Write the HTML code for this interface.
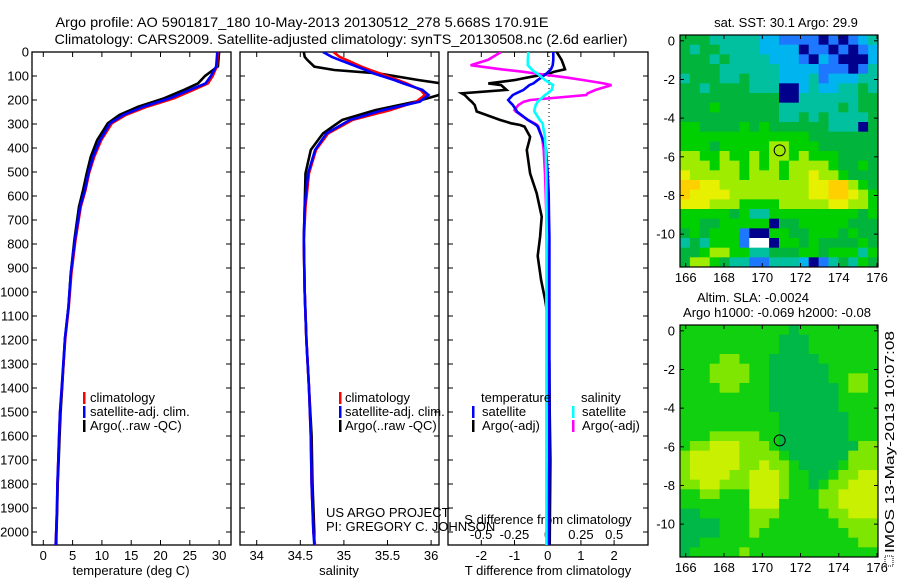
<!DOCTYPE html>
<html><head><meta charset="utf-8"><style>
html,body{margin:0;padding:0;background:#fff;}
svg{display:block;font-family:"Liberation Sans",sans-serif;}
</style></head><body>
<svg id="fig" width="900" height="580" viewBox="0 0 900 580" xmlns="http://www.w3.org/2000/svg">
<rect width="900" height="580" fill="#fff"/>
<text x="302" y="27" font-size="14" text-anchor="middle" textLength="493" lengthAdjust="spacingAndGlyphs">Argo profile: AO 5901817_180 10-May-2013 20130512_278 5.668S 170.91E</text>
<text x="341" y="44" font-size="14" text-anchor="middle" textLength="573" lengthAdjust="spacingAndGlyphs">Climatology: CARS2009. Satellite-adjusted climatology: synTS_20130508.nc (2.6d earlier)</text>
<g id="maps"></g>
<g id="panels"></g>
</svg>
<script>
// ---------- data ----------
const depthTicks=[0,100,200,300,400,500,600,700,800,900,1000,1100,1200,1300,1400,1500,1600,1700,1800,1900,2000];
const tTicks=[0,5,10,15,20,25,30];
const sTicks=[34,34.5,35,35.5,36];
const dTTicks=[-2,-1,0,1,2];
const dSTicks=[-0.5,-0.25,0,0.25,0.5];
const dSTickLabels=["-0.5","-0.25","0","0.25","0.5"];

const tDepth=[0,60,100,131,158,193,228,262,297,367,436,506,575,644,783,922,1061,1193,1400,1500,1600,1700,1800,1900,2000,2054];
const tClim=[29.8,29.6,28.9,28.1,25.6,22.3,17.7,14.1,11.7,9.9,8.7,7.8,7.2,6.4,5.5,4.8,4.35,3.75,3.15,2.87,2.7,2.56,2.42,2.33,2.2,2.1];
const tSat=[29.7,29.5,28.6,27.7,25.0,21.6,17.1,13.7,11.4,9.7,8.5,7.7,7.1,6.3,5.4,4.7,4.3,3.7,3.14,2.85,2.7,2.56,2.4,2.33,2.2,2.12];
const tArgo=[30.0,29.8,27.6,26.4,24.0,20.6,16.2,13.0,11.0,9.2,8.1,7.4,6.8,6.1,5.3,4.7,4.3,3.7,3.2,2.95,2.78,2.62,2.45,2.38,2.25,2.2];

const sDepth=[0,20,33,61,75,89,117,131,158,179,207,242,283,339,408,506,644,783,1000,1200,1400,1600,1800,2000,2054];
const sClim=[34.88,34.95,35.03,35.2,35.3,35.41,35.62,35.72,35.88,35.93,35.83,35.53,35.1,34.82,34.68,34.6,34.56,34.54,34.55,34.57,34.6,34.62,34.63,34.65,34.67];
const sSat=[34.76,34.86,34.95,35.15,35.25,35.34,35.58,35.68,35.9,35.97,35.87,35.45,35.07,34.8,34.67,34.59,34.55,34.54,34.55,34.57,34.6,34.62,34.63,34.65,34.66];
const sArgo=[34.54,34.55,34.58,34.66,34.89,35.4,35.86,36.12,36.12,36.09,35.82,35.36,34.98,34.76,34.62,34.56,34.55,34.54,34.55,34.57,34.6,34.63,34.64,34.66,34.66];

const dDepth=[0,33,55,72,82,89,107,117,131,138,158,172,179,200,207,221,242,248,283,297,304,311,353,367,408,506,589,686,769,850,950,1030,1100,1300,1500,1700,1900,2054];
const dTSat=[0.17,0.17,0.15,0.1,0.02,-0.03,-0.2,-0.3,-0.43,-0.55,-0.73,-0.95,-1.05,-1.19,-1.15,-1.05,-0.95,-0.93,-0.6,-0.43,-0.35,-0.3,-0.18,-0.14,-0.05,0.0,0.03,0.04,0.05,0.05,0.05,0.05,0.05,0.05,0.05,0.05,0.04,0.04];
const dTArgo=[0.27,0.42,0.48,0.52,0.2,0.06,-0.64,-1.0,-1.79,-1.4,-1.24,-2.59,-2.5,-2.35,-2.29,-2.2,-2.15,-2.14,-1.44,-1.1,-0.83,-0.7,-0.53,-0.55,-0.63,-0.53,-0.33,-0.18,-0.23,-0.3,-0.2,-0.08,0.0,0.05,0.06,0.08,0.07,0.06];
const dSSat=[-0.146,-0.15,-0.15,-0.12,-0.1,-0.08,-0.04,-0.02,0.02,0.04,0.03,0.0,-0.02,-0.06,-0.075,-0.09,-0.1,-0.1,-0.06,-0.04,-0.035,-0.035,-0.02,-0.02,-0.015,-0.01,-0.01,-0.01,-0.01,-0.01,-0.01,-0.01,-0.01,-0.01,-0.01,-0.01,-0.01,-0.01];
const dSArgo=[-0.35,-0.45,-0.58,-0.35,-0.19,-0.1,0.15,0.27,0.42,0.48,0.36,0.3,0.29,-0.13,-0.18,-0.22,-0.25,-0.24,-0.15,-0.1,-0.08,-0.07,-0.045,-0.04,-0.03,-0.02,-0.015,-0.01,-0.01,-0.005,0.0,0.0,0.0,0.005,0.01,0.01,0.005,0.0];

const latTicks=[0,-2,-4,-6,-8,-10];
const lonTicks=[166,168,170,172,174,176];
const sstRows=[
"44433333221111010123","43443333222201101012","44434333322210210002","44443333332222111013",
"34443343332223122233","44344443330023223343","44444444440033333344","44454444443333334344",
"44444444443343433334","55444454544444433304","55555555555554444444","55545555566555444444",
"66556556566565554444","66656656565666654454","76666656665667665444","88776666666667788654",
"87777666666667788765","77766655556666677665","55555453355555555545","55445555504455555444",
"45455510055445554544","34355519905545444454","44566553344455455535","46654331133320134354"];
const slaRows=[
"55555555555455555555","55555555554445555555","55555555554445555555","55556655544444555555",
"55566665544444455555","55566665544444455665","55556655544444445665","55555555544444445555",
"55555555544444445555","55555555554444444555","55555555554444444555","55566666554444444555",
"56677766654444444466","67777766665444444666","67777766766544445666","67777667776554456677",
"66776667776554566777","55665557776555667777","55555557775555667777","44555556665555566777",
"44445556655555556666","44445556555555555666","44555555555555555566","45555565555555555555"];
const sstPalette=["#00008c","#1e78ff","#00b4f0","#00c0a0","#00b43c","#00d000","#a0ec00","#e6f000","#ffd000","#ffffff"];
const slaPalette=["#00008c","#1e78ff","#00b4f0","#00c0a0","#00b848","#10d010","#7ee600","#c8f000","#ffd000","#ffffff"];
const argoLon=170.91, argoLat=-5.668;

// ---------- helpers ----------
const NS="http://www.w3.org/2000/svg";
function el(tag,attrs,parent){const e=document.createElementNS(NS,tag);for(const k in attrs)e.setAttribute(k,attrs[k]);parent.appendChild(e);return e;}
const panels=document.getElementById('panels');
const maps=document.getElementById('maps');
const Y0=52, YS=0.24, YB=545;
function yD(d){return Y0+d*YS;}

function drawFrame(x0,x1,name,leftLabels){
  const g=el('g',{},panels);
  
  
  const r=el('rect',{x:x0,y:Y0,width:x1-x0,height:YB-Y0,fill:'none',stroke:'#000','stroke-width':1.3},g);
  
  
  depthTicks.forEach(d=>{
    const y=yD(d);
    el('line',{x1:x0,y1:y,x2:x0+5,y2:y,stroke:'#000'},g);
    el('line',{x1:x1-5,y1:y,x2:x1,y2:y,stroke:'#000'},g);
    if(leftLabels){
      const t=el('text',{x:x0-3,y:y+4.5,'font-size':13,'text-anchor':'end'},g);
      t.textContent=d;
      
      
    }
  });
  return g;
}
function xTicks(g,ticks,labels,fx,ly){
  ticks.forEach((v,i)=>{
    const x=fx(v);
    el('line',{x1:x,y1:YB,x2:x,y2:YB-5,stroke:'#000'},g);
    el('line',{x1:x,y1:Y0,x2:x,y2:Y0+5,stroke:'#000'},g);
    const t=el('text',{x:x,y:ly,'font-size':13,'text-anchor':'middle'},g);
    t.textContent=labels[i];
    
    
  });
}
function series(g,ds,vs,fx,color,name,w){
  const pts=ds.map((d,i)=>fx(vs[i]).toFixed(1)+','+yD(d).toFixed(1)).join(' ');
  const p=el('polyline',{points:pts,fill:'none',stroke:color,'stroke-width':w||2.6,'stroke-linejoin':'miter'},g);
  
  
}
function label(g,x,y,txt,name,anchor,size){
  const t=el('text',{x:x,y:y,'font-size':size||13,'text-anchor':anchor||'start'},g);
  t.textContent=txt;
  
  
  return t;
}
function legendBar(g,x,y,color){
  const b=el('rect',{x:x,y:y-10,width:2.5,height:12,fill:color},g);
  
  
}

// ---------- panel 1: temperature ----------
const xT=v=>43.3+v*5.86;
const g1=drawFrame(32,231,'temperature-panel',true);
xTicks(g1,tTicks,tTicks.map(String),xT,560);
label(g1,131,575,'temperature (deg C)','x-axis-title-temperature','middle');
series(g1,tDepth,tArgo,xT,'#000','temp-argo-line');
series(g1,tDepth,tClim,xT,'#ff0000','temp-climatology-line');
series(g1,tDepth,tSat,xT,'#0000ff','temp-satellite-line');
legendBar(g1,83,402,'#ff0000');label(g1,90,402,'climatology','legend-climatology');
legendBar(g1,83,416,'#0000ff');label(g1,90,416,'satellite-adj. clim.','legend-satellite');
legendBar(g1,83,430,'#000');label(g1,90,430,'Argo(..raw -QC)','legend-argo');

// ---------- panel 2: salinity ----------
const xS=v=>256.7+(v-34)*87.2;
const defs=el('defs',{},panels);
const cp=el('clipPath',{id:'c2'},defs);el('rect',{x:240,y:Y0,width:199,height:YB-Y0},cp);
const cp3=el('clipPath',{id:'c3'},defs);el('rect',{x:448,y:Y0,width:200,height:YB-Y0},cp3);
const g2=drawFrame(240,439,'salinity-panel',false);
xTicks(g2,sTicks,sTicks.map(String),xS,560);
label(g2,339,575,'salinity','x-axis-title-salinity','middle');
const s2=el('g',{'clip-path':'url(#c2)'},g2);
series(s2,sDepth,sArgo,xS,'#000','sal-argo-line');
series(s2,sDepth,sClim,xS,'#ff0000','sal-climatology-line');
series(s2,sDepth,sSat,xS,'#0000ff','sal-satellite-line');
legendBar(g2,339,402,'#ff0000');label(g2,345,402,'climatology','legend-climatology');
legendBar(g2,339,416,'#0000ff');label(g2,345,416,'satellite-adj. clim.','legend-satellite');
legendBar(g2,339,430,'#000');label(g2,345,430,'Argo(..raw -QC)','legend-argo');
label(g2,326,517,'US ARGO PROJECT','project-credit');
label(g2,326,531,'PI: GREGORY C. JOHNSON','pi-credit');

// ---------- panel 3: differences ----------
const xdT=v=>547.7+v*33.2;
const xdS=v=>547.7+v*133;
const g3=drawFrame(448,648,'difference-panel',false);
xTicks(g3,dTTicks,dTTicks.map(String),xdT,560);
dSTicks.forEach((v,i)=>{label(g3,xdS(v),539,dSTickLabels[i],'s-diff-tick-label','middle');});
label(g3,548,524,'S difference from climatology','s-diff-axis-title','middle');
label(g3,548,575,'T difference from climatology','t-diff-axis-title','middle');
const zl=el('line',{x1:549,y1:Y0,x2:549,y2:190,stroke:'#000','stroke-dasharray':'1 3'},g3);


const s3=el('g',{'clip-path':'url(#c3)'},g3);
series(s3,dDepth,dTArgo,xdT,'#000','t-diff-argo-line');
series(s3,dDepth,dSArgo,xdS,'#ff00ff','s-diff-argo-line');
series(s3,dDepth,dTSat,xdT,'#0000ff','t-diff-satellite-line');
series(s3,dDepth,dSSat,xdS,'#00ffff','s-diff-satellite-line');
label(g3,481,402,'temperature','legend-temperature-header');
label(g3,581,402,'salinity','legend-salinity-header');
legendBar(g3,472,416,'#0000ff');label(g3,482,416,'satellite','legend-t-satellite');
legendBar(g3,472,430,'#000');label(g3,482,430,'Argo(-adj)','legend-t-argo');
legendBar(g3,572,416,'#00ffff');label(g3,582,416,'satellite','legend-s-satellite');
legendBar(g3,572,430,'#ff00ff');label(g3,582,430,'Argo(-adj)','legend-s-argo');

// ---------- maps ----------
const LON0=165.7, LON1=176.05, LAT0=0.3, LAT1=-11.7, MX0=680, MX1=878;
function drawMap(rows,pal,top,bottom,name){
  const g=el('g',{},maps);
  
  
  const fx=lon=>MX0+(lon-LON0)/(LON1-LON0)*(MX1-MX0);
  const fy=lat=>top+(LAT0-lat)/(LAT0-LAT1)*(bottom-top);
  const nr=rows.length,nc=rows[0].length;
  const dLon=(LON1-LON0)/nc,dLat=(LAT0-LAT1)/nr;
  rows.forEach((row,r)=>{
    for(let c=0;c<nc;c++){
      const x=fx(LON0+c*dLon),y=fy(LAT0-r*dLat);
      const cell=el('rect',{x:x.toFixed(2),y:y.toFixed(2),width:(fx(LON0+(c+1)*dLon)-x+0.4).toFixed(2),height:(fy(LAT0-(r+1)*dLat)-y+0.4).toFixed(2),fill:pal[+row[c]]},g);
      
      
    }
  });
  const fr=el('rect',{x:MX0,y:top,width:MX1-MX0,height:bottom-top,fill:'none',stroke:'#000','stroke-width':1.2},g);
  
  
  latTicks.forEach(l=>{
    const y=fy(l);
    el('line',{x1:MX0,y1:y,x2:MX0+4,y2:y,stroke:'#000'},g);
    el('line',{x1:MX1-4,y1:y,x2:MX1,y2:y,stroke:'#000'},g);
    label(g,MX0-5,y+4.5,String(l),'lat-tick-label','end');
  });
  lonTicks.forEach(l=>{
    const x=fx(l);
    el('line',{x1:x,y1:bottom,x2:x,y2:bottom-4,stroke:'#000'},g);
    el('line',{x1:x,y1:top,x2:x,y2:top+4,stroke:'#000'},g);
    label(g,x,bottom+15,String(l),'lon-tick-label','middle');
  });
  const ci=el('circle',{cx:fx(argoLon),cy:fy(argoLat),r:5.5,fill:'none',stroke:'#000','stroke-width':1},g);
  
  
}
drawMap(sstRows,sstPalette,35,267,'sst-map');
drawMap(slaRows,slaPalette,325,557,'sla-map');
label(maps,786,27,'sat. SST: 30.1 Argo: 29.9','sst-map-title','middle');
label(maps,753,302,'Altim. SLA: -0.0024','sla-map-title','middle');
label(maps,777,317,'Argo h1000: -0.069 h2000: -0.08','sla-map-subtitle','middle');
const ts=label(maps,0,0,'IMOS 13-May-2013 10:07:08','timestamp-label','start',13);
ts.setAttribute('textLength','222');
ts.setAttribute('lengthAdjust','spacingAndGlyphs');
ts.setAttribute('transform','translate(894,553) rotate(-90)');
const ib=el('rect',{x:885,y:556,width:8,height:10,fill:'none',stroke:'#000','stroke-dasharray':'1 1'},maps);


</script>
</body></html>
